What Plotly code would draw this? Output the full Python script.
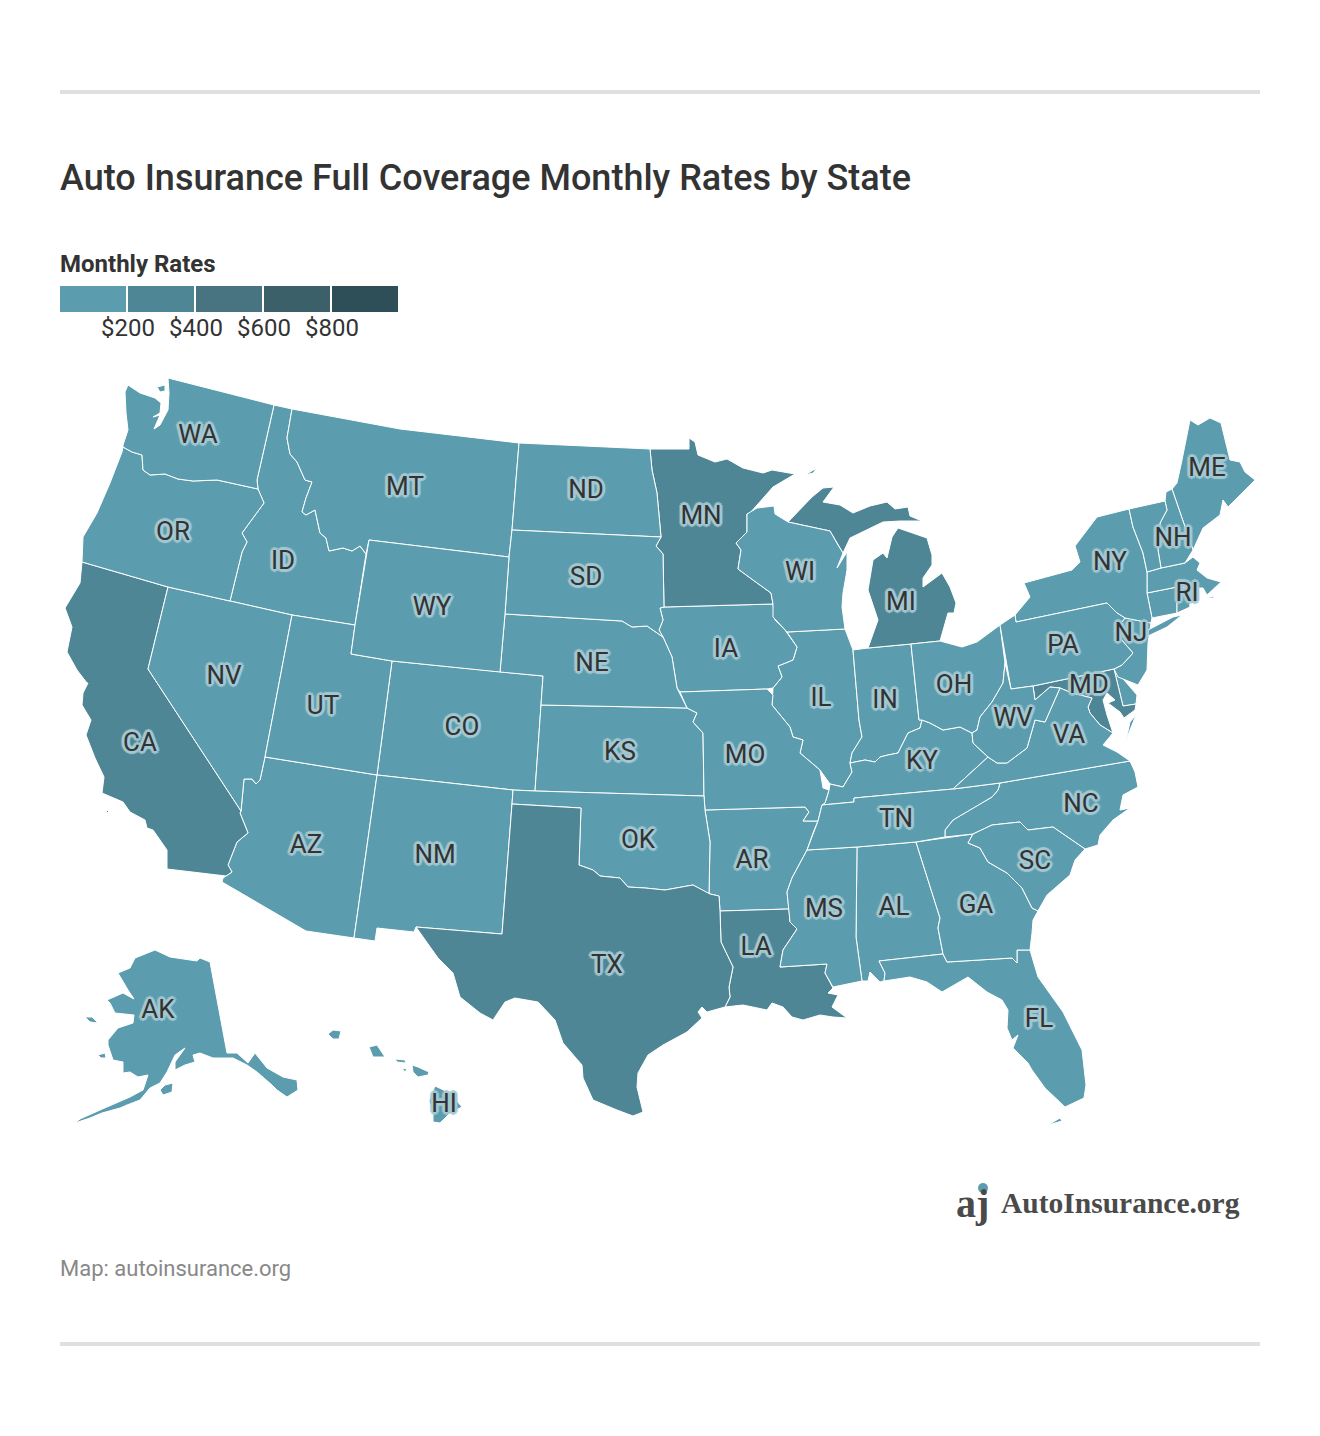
import plotly.graph_objects as go

# legend
legend_colors = ["#5b9dae", "#4f8696", "#477480", "#3c606a", "#2e4f58"]
legend_ticks = [200, 400, 600, 800]
tick_labels = ["$200", "$400", "$600", "$800"]

# monthly rates, estimated from the shade of each state (only the bucket can be read)
states = ["AL","AK","AZ","AR","CA","CO","CT","DE","FL","GA","HI","ID","IL","IN","IA","KS","KY","LA","ME","MD",
          "MA","MI","MN","MS","MO","MT","NE","NV","NH","NJ","NM","NY","NC","ND","OH","OK","OR","PA","RI","SC",
          "SD","TN","TX","UT","VT","VA","WA","WV","WI","WY"]
rates = [150,150,150,150,250,150,150,150,150,150,150,150,150,150,150,150,150,250,150,250,
         150,250,250,150,150,150,150,150,150,150,150,150,150,150,150,150,150,150,150,150,
         150,150,250,150,150,150,150,150,150,150]

label_states = ["WA","OR","CA","NV","ID","MT","WY","UT","AZ","CO","NM","ND","SD","NE","KS","OK","TX","MN","IA","MO",
                "AR","LA","WI","IL","MS","MI","IN","KY","TN","AL","OH","GA","FL","SC","NC","VA","WV","PA","NY","MD",
                "NJ","ME","NH","RI","AK","HI"]
label_x = [198,173,140,224,283,405,432,323,306,462,435,586,586,592,620,638,607,701,726,745,
           752,756,800,821,824,901,885,922,896,894,954,976,1039,1035,1081,1069,1013,1063,1110,1089,
           1131,1207,1173,1187,158,444]
label_y = [436,533,744,677,562,488,608,707,846,728,856,491,578,664,753,841,966,517,650,756,
           861,948,573,699,910,603,701,762,820,908,686,906,1020,862,805,736,719,646,563,686,
           634,469,539,594,1011,1105]

# plotly can't fetch its state topojson offline, so the outlines are traced off the picture (page pixels)
outlines = {
    "WA": [[(168,378),(274,405),(257,480),(258,489),(217,480),(193,481),(178,479),(165,474),(150,475),(143,470),(142,455),
            (132,452),(123,447),(123,445),(128,430),(126,413),(125,392),(128,385),(140,393),(155,398),(161,403),(160,413),
            (153,417),(160,415),(154,429),(160,425),(168,410),(169,393)],
           [(157,387),(165,385),(165,391),(160,392)]],
    "OR": [[(123,447),(132,452),(142,455),(143,470),(150,475),(165,474),(178,479),(193,481),(217,480),(258,489),(264,503),
            (242,533),(247,542),(242,552),(230,601),(168,587),(82,562),(83,537),(97,513),(110,483),(122,452)]],
    "CA": [[(82,562),(168,587),(148,669),(241,811),(240,813),(248,833),(237,842),(228,865),(232,872),(226,876),(167,869),
            (167,850),(153,830),(147,828),(145,820),(130,812),(123,802),(102,793),(104,777),(95,758),(86,735),(91,720),
            (82,705),(83,693),(88,683),(87,683),(77,670),(67,652),(72,627),(65,608),(80,583)],
           [(106,810),(109,811),(107,813)]],
    "NV": [[(168,587),(230,601),(292,615),(265,757),(260,780),(256,784),(252,779),(244,779),(242,797),(241,811),(148,669)]],
    "ID": [[(274,405),(292,409),(287,438),(290,454),(297,462),(305,480),(312,482),(306,498),(302,512),(306,515),(315,510),
            (320,533),(326,538),(329,551),(343,548),(352,551),(360,546),(366,554),(355,625),(292,615),(230,601),(242,552),
            (247,542),(242,533),(264,503),(258,489),(257,480)]],
    "MT": [[(292,409),(400,429),(519,443),(512,530),(509,557),(369,540),(366,554),(360,546),(352,551),(343,548),(329,551),
            (326,538),(320,533),(315,510),(306,515),(302,512),(306,498),(312,482),(305,480),(297,462),(290,454),(287,438)]],
    "WY": [[(369,540),(509,557),(505,614),(500,672),(392,661),(351,654),(355,625)]],
    "UT": [[(292,615),(355,625),(351,654),(392,661),(377,775),(265,757)]],
    "CO": [[(392,661),(500,672),(543,676),(541,705),(535,791),(513,790),(377,775)]],
    "NM": [[(377,775),(513,790),(512,804),(502,934),(416,927),(414,932),(377,928),(375,941),(354,938)]],
    "AZ": [[(265,757),(377,775),(354,938),(306,931),(222,882),(223,878),(226,876),(232,872),(228,865),(237,842),(248,833),
            (240,813),(241,811),(242,797),(244,779),(252,779),(256,784),(260,780)]],
    "TX": [[(512,804),(581,808),(579,865),(593,870),(600,876),(620,878),(628,887),(645,888),(665,890),(693,885),(710,894),
            (719,896),(720,911),(721,942),(733,967),(729,987),(730,997),(725,1007),(707,1012),(702,1007),(698,1012),
            (702,1018),(687,1032),(663,1045),(648,1055),(638,1073),(637,1087),(643,1112),(633,1116),(617,1110),(593,1100),
            (583,1078),(582,1065),(563,1043),(555,1020),(538,1002),(515,998),(505,1002),(493,1020),(480,1013),(460,997),
            (453,973),(438,958),(422,935),(416,927),(502,934)]],
    "OK": [[(513,790),(535,791),(704,796),(705,810),(710,842),(709,894),(693,885),(665,890),(645,888),(628,887),(620,878),
            (600,876),(593,870),(579,865),(581,808),(512,804)]],
    "KS": [[(541,705),(687,708),(697,713),(693,722),(703,733),(704,796),(535,791)]],
    "NE": [[(505,614),(622,621),(632,627),(647,626),(663,637),(672,657),(677,688),(687,708),(541,705),(543,676),(500,672)]],
    "SD": [[(512,530),(661,537),(656,546),(663,554),(664,607),(660,608),(663,620),(659,630),(663,637),(647,626),(632,627),
            (622,621),(505,614),(509,557)]],
    "ND": [[(519,443),(650,449),(652,470),(657,493),(661,537),(512,530)]],
    "MN": [[(650,449),(689,449),(689,438),(695,442),(698,455),(715,462),(727,459),(743,468),(763,473),(772,470),(795,474),
            (773,487),(750,513),(747,514),(747,532),(736,543),(741,550),(738,569),(753,580),(771,593),(773,604),(664,607),
            (663,554),(656,546),(661,537),(657,493),(652,470)]],
    "WI": [[(747,514),(757,508),(774,506),(775,514),(788,522),(830,531),(838,545),(843,553),(837,568),(847,552),(847,570),
            (843,593),(842,607),(845,629),(787,632),(773,617),(773,604),(771,593),(753,580),(738,569),(741,550),(736,543),
            (747,532)]],
    "MI": [[(788,522),(812,497),(823,488),(834,487),(823,502),(840,505),(853,513),(870,506),(887,502),(895,509),(908,507),
            (910,516),(922,521),(900,521),(883,522),(862,532),(850,538),(843,553),(838,545),(830,531)],
           [(898,528),(927,538),(932,555),(932,565),(923,578),(923,587),(942,573),(950,587),(956,603),(954,613),(948,613),
            (940,641),(911,644),(868,648),(878,620),(868,590),(873,560),(883,553),(887,558),(892,537)],
           [(805,475),(817,468),(813,473)]],
    "IA": [[(660,608),(664,607),(773,604),(775,620),(785,630),(797,647),(793,660),(778,666),(782,677),(773,688),(767,689),
            (680,692),(677,688),(672,657),(663,637),(659,630),(663,620)]],
    "MO": [[(680,692),(767,689),(773,695),(772,705),(790,727),(793,737),(803,740),(800,753),(820,770),(823,788),(829,790),
            (825,803),(822,805),(818,821),(803,821),(809,812),(805,807),(705,810),(704,796),(703,733),(693,722),(697,713),
            (687,708)]],
    "AR": [[(705,810),(805,807),(809,812),(803,821),(818,821),(813,833),(807,850),(792,878),(787,892),(789,909),(720,911),
            (719,896),(710,894),(709,894),(710,842)]],
    "LA": [[(720,911),(789,909),(790,922),(797,929),(783,950),(780,967),(827,964),(825,973),(833,988),(828,993),(838,995),
            (832,1007),(847,1018),(833,1017),(820,1015),(803,1020),(792,1017),(783,1007),(772,1003),(767,1010),(743,1005),
            (725,1007),(730,997),(729,987),(733,967),(721,942)]],
    "MS": [[(807,850),(857,847),(856,937),(862,981),(833,987),(825,973),(827,964),(780,967),(783,950),(797,929),(790,922),
            (789,909),(787,892),(792,878)]],
    "AL": [[(857,847),(916,842),(940,918),(938,928),(943,954),(879,961),(885,973),(884,981),(880,982),(870,972),(868,981),
            (862,981),(856,937)]],
    "GA": [[(916,842),(973,834),(968,843),(980,848),(988,862),(1007,873),(1022,888),(1032,908),(1038,911),(1033,920),
            (1032,933),(1030,950),(1017,950),(1017,963),(1012,958),(947,962),(943,954),(938,928),(940,918)]],
    "FL": [[(879,961),(943,954),(947,962),(1012,958),(1017,963),(1017,950),(1030,950),(1038,977),(1063,1012),(1082,1050),
            (1086,1085),(1084,1098),(1065,1107),(1045,1088),(1032,1070),(1028,1063),(1013,1048),(1018,1035),(1012,1040),
            (1007,1028),(1008,1010),(1002,1000),(987,992),(968,977),(942,992),(927,982),(910,977),(884,981),(885,973)],
           [(1048,1125),(1060,1118),(1062,1121)]],
    "SC": [[(968,843),(973,834),(992,825),(1020,822),(1028,830),(1053,827),(1085,849),(1075,860),(1070,875),(1047,895),
            (1038,911),(1032,908),(1022,888),(1007,873),(988,862),(980,848)]],
    "NC": [[(1130,761),(1000,783),(998,790),(992,797),(973,808),(953,820),(945,830),(945,837),(973,834),(992,825),(1020,822),
            (1028,830),(1053,827),(1085,849),(1098,845),(1100,835),(1113,820),(1130,808),(1120,810),(1123,795),(1138,787),
            (1135,772)]],
    "TN": [[(822,805),(854,802),(854,798),(953,789),(1000,783),(998,790),(992,797),(973,808),(953,820),(945,830),(945,837),
            (916,842),(857,847),(807,850),(813,833),(818,821)]],
    "KY": [[(829,790),(830,784),(843,787),(852,772),(850,763),(865,760),(875,762),(880,757),(888,755),(898,753),(908,733),
            (920,728),(922,720),(930,723),(943,730),(960,727),(972,733),(973,743),(988,757),(972,772),(953,789),(854,798),
            (854,802),(822,805),(825,803)]],
    "IL": [[(787,632),(845,629),(853,650),(859,720),(862,737),(860,740),(852,753),(850,763),(852,772),(843,787),(830,784),
            (820,770),(800,753),(803,740),(793,737),(790,727),(772,705),(773,688),(782,677),(778,666),(793,660),(797,647)]],
    "IN": [[(853,650),(868,648),(911,644),(919,720),(922,720),(920,728),(908,733),(898,753),(888,755),(880,757),(875,762),
            (865,760),(850,763),(852,753),(860,740),(862,737),(859,720)]],
    "OH": [[(911,644),(940,641),(962,647),(977,642),(1000,625),(1005,663),(1003,683),(992,702),(980,717),(977,730),(972,733),
            (960,727),(943,730),(930,723),(922,720),(919,720)]],
    "PA": [[(1000,625),(1015,615),(1016,622),(1107,603),(1117,613),(1125,618),(1118,627),(1120,638),(1133,653),(1122,665),
            (1114,669),(1033,686),(1011,689)]],
    "NJ": [[(1125,618),(1151,623),(1148,643),(1147,670),(1138,685),(1118,677),(1114,669),(1122,665),(1133,653),(1120,638),
            (1118,627)]],
    "DE": [[(1114,669),(1118,673),(1137,695),(1136,704),(1123,706)]],
    "MD": [[(1033,686),(1114,669),(1123,706),(1136,704),(1135,710),(1124,718),(1120,712),(1108,703),(1115,700),(1107,693),
            (1103,700),(1107,715),(1113,733),(1100,725),(1090,713),(1088,707),(1092,698),(1072,693),(1060,688),(1050,687),
            (1035,700)]],
    "VA": [[(1130,761),(1000,783),(953,789),(972,772),(988,757),(997,763),(1007,763),(1027,748),(1035,720),(1045,722),
            (1060,688),(1072,693),(1092,698),(1088,707),(1090,713),(1100,725),(1113,733),(1103,745),(1117,752)],
           [(1125,745),(1130,722),(1136,715),(1128,735)]],
    "WV": [[(1033,686),(1035,700),(1050,687),(1060,688),(1045,722),(1035,720),(1027,748),(1007,763),(997,763),(988,757),
            (973,743),(972,733),(977,730),(980,717),(992,702),(1003,683),(1005,663),(1011,689)]],
    "NY": [[(1015,615),(1030,597),(1024,583),(1050,576),(1072,570),(1080,562),(1075,546),(1097,517),(1129,509),(1133,527),
            (1143,553),(1147,572),(1147,593),(1152,618),(1151,623),(1125,618),(1117,613),(1107,603),(1016,622)],
           [(1148,630),(1173,617),(1182,615),(1167,627),(1148,636)]],
    "VT": [[(1129,509),(1165,501),(1167,510),(1160,523),(1158,550),(1161,568),(1147,572),(1143,553),(1133,527)]],
    "NH": [[(1165,501),(1166,492),(1172,489),(1193,550),(1185,563),(1161,568),(1158,550),(1160,523),(1167,510)]],
    "ME": [[(1172,489),(1177,483),(1182,460),(1190,420),(1198,425),(1210,418),(1221,423),(1230,460),(1240,462),(1245,472),
            (1255,480),(1228,507),(1223,500),(1220,515),(1203,528),(1193,550)]],
    "MA": [[(1147,572),(1161,568),(1185,563),(1193,557),(1200,563),(1197,570),(1207,578),(1221,582),(1207,595),(1203,588),
            (1188,588),(1177,587),(1147,593)],
           [(1207,598),(1213,596),(1214,598)]],
    "CT": [[(1147,593),(1177,587),(1177,613),(1152,618)]],
    "RI": [[(1177,587),(1188,588),(1190,607),(1177,613)]],
    "AK": [[(210,962),(227,1053),(237,1053),(248,1063),(255,1053),(267,1068),(283,1077),(297,1080),(298,1090),(287,1097),
            (277,1090),(272,1085),(257,1072),(247,1065),(233,1058),(213,1058),(200,1053),(193,1055),(195,1062),(185,1065),
            (175,1070),(175,1062),(185,1048),(175,1055),(167,1072),(160,1083),(150,1088),(140,1100),(127,1105),(120,1108),
            (102,1113),(90,1118),(75,1123),(80,1119),(100,1110),(118,1102),(130,1097),(143,1090),(148,1075),(138,1077),
            (130,1072),(123,1073),(123,1062),(113,1060),(108,1045),(108,1040),(118,1028),(133,1023),(134,1015),(115,1013),
            (110,1003),(107,1000),(123,993),(134,999),(128,990),(118,973),(130,968),(135,958),(155,950),(170,957),(197,961),
            (200,958)],
           [(85,1017),(92,1017),(98,1023),(90,1022)],
           [(98,1055),(105,1053),(106,1058),(101,1058)],
           [(160,1090),(165,1085),(173,1083),(172,1092),(163,1095)]],
    "HI": [[(435,1086),(450,1093),(462,1107),(450,1113),(440,1123),(433,1122),(433,1113),(429,1101)],
           [(412,1065),(418,1067),(429,1072),(428,1075),(418,1077),(413,1072)],
           [(395,1059),(405,1060),(406,1063),(397,1062)],
           [(402,1068),(407,1069),(405,1072)],
           [(369,1047),(377,1045),(385,1057),(373,1057)],
           [(328,1034),(333,1030),(341,1031),(339,1039),(333,1039)]],
}


def rate_color(rate):
    for tick, color in zip(legend_ticks, legend_colors):
        if rate < tick:
            return color
    return legend_colors[-1]


fig = go.Figure()

for state, rate in zip(states, rates):
    xs, ys = [], []
    for ring in outlines[state]:
        xs += [p[0] for p in ring] + [ring[0][0], None]
        ys += [p[1] for p in ring] + [ring[0][1], None]
    fig.add_trace(go.Scatter(x=xs, y=ys, mode="lines", fill="toself", fillcolor=rate_color(rate), name=state,
                             line=dict(color="white", width=1), hoverinfo="name", showlegend=False))

# light halo round the state codes
halo = "#a3c8d2"
shadow = ",".join(f"{dx}px {dy}px 1px {halo}" for dx, dy in
                  [(3,0),(-3,0),(0,3),(0,-3),(2,2),(-2,2),(2,-2),(-2,-2),(1,0),(-1,0),(0,1),(0,-1)])
fig.add_trace(go.Scatter(x=label_x, y=label_y, mode="text", text=label_states, hoverinfo="skip", showlegend=False,
                         textfont=dict(family="Roboto", size=26, color="#333333", shadow=shadow)))

# page furniture
shapes = [dict(type="rect", x0=60, x1=1260, y0=90, y1=94, fillcolor="#e0e0e0", line_width=0),
          dict(type="rect", x0=60, x1=1260, y0=1342, y1=1346, fillcolor="#e0e0e0", line_width=0),
          dict(type="circle", x0=978, x1=988, y0=1183, y1=1193, fillcolor="#5b9dae", line_width=0)]
for i, color in enumerate(legend_colors):
    shapes.append(dict(type="rect", x0=60 + 68 * i, x1=126 + 68 * i, y0=286, y1=312, fillcolor=color, line_width=0))


def note(x, y, text, size, color="#333333", weight=400, family="Roboto", anchor="left"):
    return dict(x=x, y=y, text=text, showarrow=False, xanchor=anchor, yanchor="middle", xref="x", yref="y",
                font=dict(family=family, size=size, color=color, weight=weight))


# annotations sit about 2px right of their x because of plotly's padding
annotations = [
    note(58, 178, "Auto Insurance Full Coverage Monthly Rates by State", 36, weight=500),
    note(58, 264, "Monthly Rates", 24, weight=700),
    note(58, 1268, "Map: autoinsurance.org", 22, color="#888888"),
    note(999, 1203, "AutoInsurance.org", 29.5, color="#4a4a4a", weight=700, family="Liberation Serif"),
    note(972, 1203, "aj", 40, color="#4a4a4a", weight=700, family="Liberation Serif", anchor="center"),
]
for tick, label in zip(legend_ticks, tick_labels):
    annotations.append(note(60 + 68 * tick / 200, 328, label, 24, anchor="center"))

fig.update_layout(width=1320, height=1436, margin=dict(l=0, r=0, t=0, b=0), paper_bgcolor="white", plot_bgcolor="white",
                  xaxis=dict(range=[0, 1320], visible=False, fixedrange=True),
                  yaxis=dict(range=[1436, 0], visible=False, fixedrange=True),
                  shapes=shapes, annotations=annotations)

# the page's default body margin would push everything 8px in
fig.write_html("out.html", config={"displayModeBar": False}, post_script="document.body.style.margin = '0';")
